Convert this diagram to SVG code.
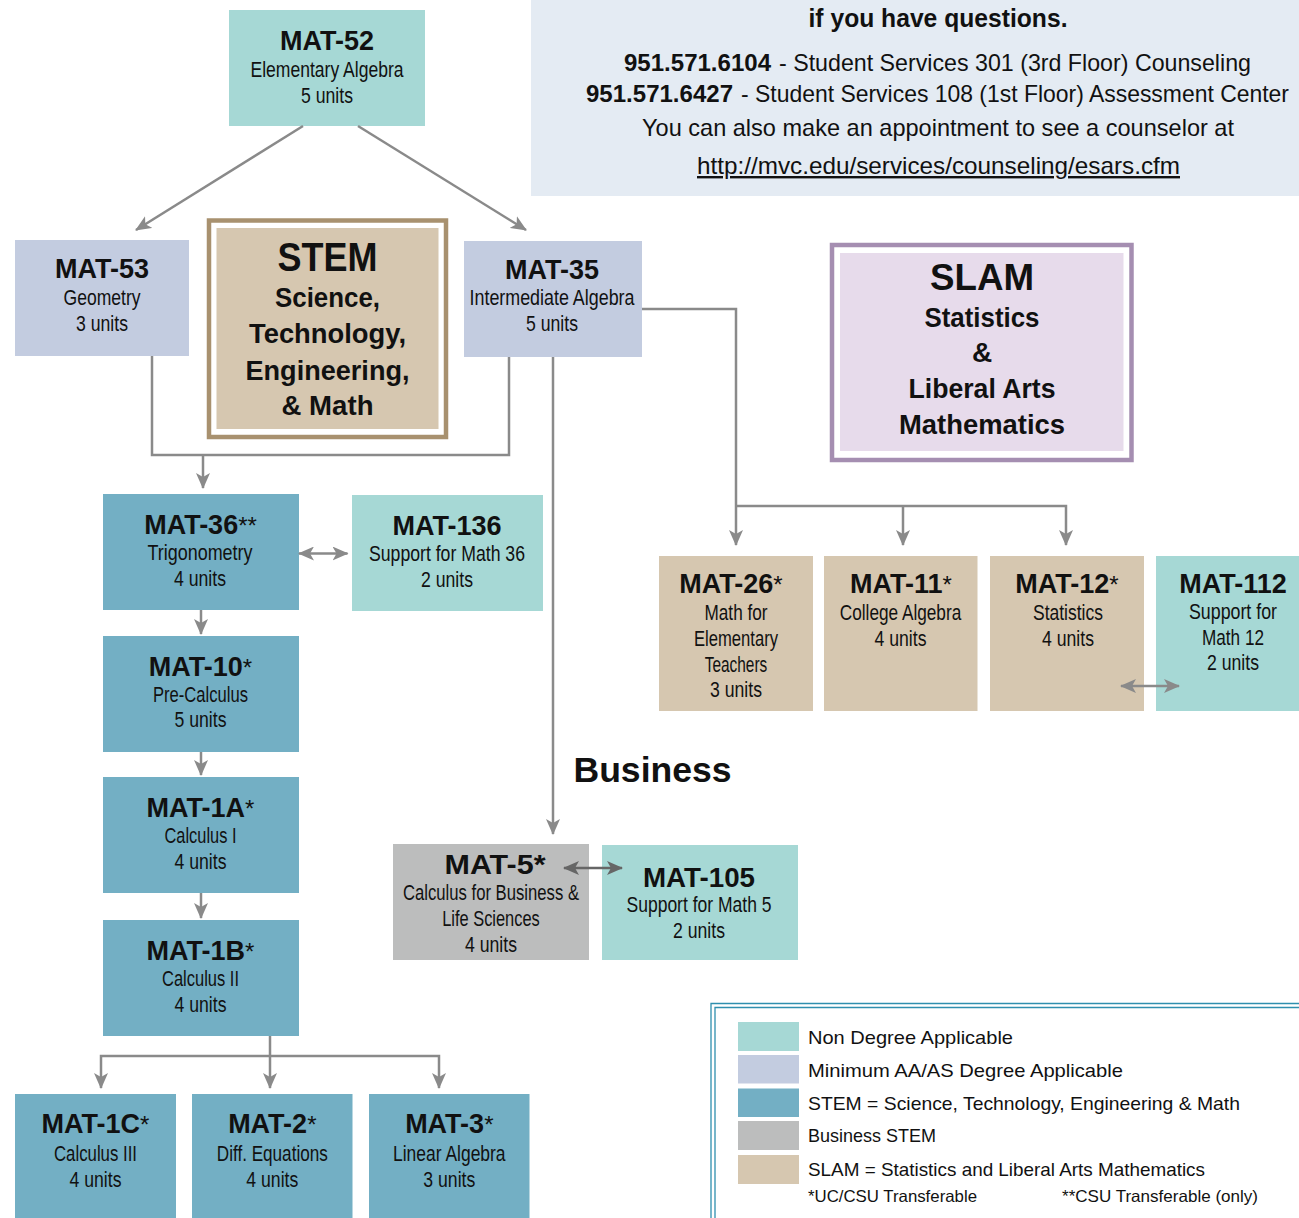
<svg xmlns="http://www.w3.org/2000/svg" width="1299" height="1218" viewBox="0 0 1299 1218">
<style>
.t{font-family:"Liberation Sans",Arial,sans-serif;font-weight:bold;font-size:27px;text-anchor:middle;fill:#111}
.s{font-family:"Liberation Sans Narrow","Liberation Sans",Arial,sans-serif;font-size:22px;text-anchor:middle;fill:#111}
.ast{font-weight:normal;font-size:24px}
.h{font-family:"Liberation Sans",Arial,sans-serif;font-weight:bold;text-anchor:middle;fill:#111}
.i{font-family:"Liberation Sans",Arial,sans-serif;font-size:24px;fill:#111}
.lg{font-family:"Liberation Sans",Arial,sans-serif;font-size:19px;fill:#111}
.fn{font-family:"Liberation Sans",Arial,sans-serif;font-size:16.5px;fill:#111}
.c{stroke:#8a8a8a;stroke-width:2.5;fill:none}
.nd{fill:#a6d8d5}
.aa{fill:#c3cce0}
.st{fill:#73afc4}
.bu{fill:#bcbdbd}
.sl{fill:#d6c7b0}
</style>
<defs>
<marker id="ah" viewBox="0 0 16 14" refX="15" refY="7" markerWidth="16" markerHeight="14" markerUnits="userSpaceOnUse" orient="auto-start-reverse"><path d="M0,0 L16,7 L0,14 L4,7 Z" fill="#8a8a8a"/></marker>
<marker id="ah2" viewBox="0 0 16 14" refX="15" refY="7" markerWidth="16" markerHeight="14" markerUnits="userSpaceOnUse" orient="auto-start-reverse"><path d="M0,0 L16,7 L0,14 L4,7 Z" fill="#666"/></marker>
</defs>
<rect width="1299" height="1218" fill="#fff"/>

<g id="info">
<rect x="531" y="0" width="768" height="196" fill="#e4ebf3"/>
<text class="h" x="938" y="27" font-size="26" textLength="259" lengthAdjust="spacingAndGlyphs">if you have questions.</text>
<text class="i" x="624" y="71" font-weight="bold" textLength="147" lengthAdjust="spacingAndGlyphs">951.571.6104</text>
<text class="i" x="779" y="71" textLength="472" lengthAdjust="spacingAndGlyphs">- Student Services 301 (3rd Floor) Counseling</text>
<text class="i" x="586" y="102" font-weight="bold" textLength="147" lengthAdjust="spacingAndGlyphs">951.571.6427</text>
<text class="i" x="741" y="102" textLength="548" lengthAdjust="spacingAndGlyphs">- Student Services 108 (1st Floor) Assessment Center</text>
<text class="i" x="642" y="136" textLength="592" lengthAdjust="spacingAndGlyphs">You can also make an appointment to see a counselor at</text>
<text class="i" x="697" y="174" fill="#2f5a9e" text-decoration="underline" textLength="483" lengthAdjust="spacingAndGlyphs">http://mvc.edu/services/counseling/esars.cfm</text>
</g>

<g id="mat52">
<rect class="nd" x="229" y="10" width="196" height="116"/>
<text class="t" x="327" y="50">MAT-52</text>
<text class="s" x="327" y="77" textLength="153" lengthAdjust="spacingAndGlyphs">Elementary Algebra</text>
<text class="s" x="327" y="103" textLength="52" lengthAdjust="spacingAndGlyphs">5 units</text>
</g>

<g id="mat53">
<rect class="aa" x="15" y="240" width="174" height="116"/>
<text class="t" x="102" y="278">MAT-53</text>
<text class="s" x="102" y="305" textLength="77" lengthAdjust="spacingAndGlyphs">Geometry</text>
<text class="s" x="102" y="331" textLength="52" lengthAdjust="spacingAndGlyphs">3 units</text>
</g>

<g id="stem">
<rect x="209" y="220.5" width="237" height="216.5" fill="#fff" stroke="#a8916f" stroke-width="4.5"/>
<rect class="sl" x="216.5" y="228" width="222" height="201"/>
<text class="h" x="327.5" y="271" font-size="40" textLength="100" lengthAdjust="spacingAndGlyphs">STEM</text>
<text class="h" x="327.5" y="307" font-size="28" textLength="105" lengthAdjust="spacingAndGlyphs">Science,</text>
<text class="h" x="327.5" y="343" font-size="28" textLength="157" lengthAdjust="spacingAndGlyphs">Technology,</text>
<text class="h" x="327.5" y="380" font-size="28" textLength="164" lengthAdjust="spacingAndGlyphs">Engineering,</text>
<text class="h" x="327.5" y="415" font-size="28" textLength="92" lengthAdjust="spacingAndGlyphs">&amp; Math</text>
</g>

<g id="mat35">
<rect class="aa" x="464" y="241" width="178" height="116"/>
<text class="t" x="552" y="279">MAT-35</text>
<text class="s" x="552" y="305" textLength="165" lengthAdjust="spacingAndGlyphs">Intermediate Algebra</text>
<text class="s" x="552" y="331" textLength="52" lengthAdjust="spacingAndGlyphs">5 units</text>
</g>

<g id="slam">
<rect x="832" y="245" width="299.5" height="215" fill="#fff" stroke="#a58eb1" stroke-width="4.5"/>
<rect x="840" y="253" width="283.5" height="198" fill="#e7dbeb"/>
<text class="h" x="982" y="290" font-size="37" textLength="104" lengthAdjust="spacingAndGlyphs">SLAM</text>
<text class="h" x="982" y="327" font-size="28" textLength="115" lengthAdjust="spacingAndGlyphs">Statistics</text>
<text class="h" x="982" y="362" font-size="28">&amp;</text>
<text class="h" x="982" y="398" font-size="28" textLength="147" lengthAdjust="spacingAndGlyphs">Liberal Arts</text>
<text class="h" x="982" y="434" font-size="28" textLength="166" lengthAdjust="spacingAndGlyphs">Mathematics</text>
</g>

<g id="mat36">
<rect class="st" x="103" y="494" width="196" height="116"/>
<text class="t" x="200.5" y="534">MAT-36<tspan class="ast">**</tspan></text>
<text class="s" x="200" y="560" textLength="105" lengthAdjust="spacingAndGlyphs">Trigonometry</text>
<text class="s" x="200" y="586" textLength="52" lengthAdjust="spacingAndGlyphs">4 units</text>
</g>

<g id="mat136">
<rect class="nd" x="352" y="495" width="191" height="116"/>
<text class="t" x="447" y="535">MAT-136</text>
<text class="s" x="447" y="561" textLength="156" lengthAdjust="spacingAndGlyphs">Support for Math 36</text>
<text class="s" x="447" y="587" textLength="52" lengthAdjust="spacingAndGlyphs">2 units</text>
</g>

<g id="mat10">
<rect class="st" x="103" y="636" width="196" height="116"/>
<text class="t" x="200.5" y="676">MAT-10<tspan class="ast">*</tspan></text>
<text class="s" x="200.5" y="702" textLength="95" lengthAdjust="spacingAndGlyphs">Pre-Calculus</text>
<text class="s" x="200.5" y="727" textLength="52" lengthAdjust="spacingAndGlyphs">5 units</text>
</g>

<g id="mat1a">
<rect class="st" x="103" y="777" width="196" height="116"/>
<text class="t" x="200.5" y="817">MAT-1A<tspan class="ast">*</tspan></text>
<text class="s" x="200.5" y="843" textLength="72" lengthAdjust="spacingAndGlyphs">Calculus I</text>
<text class="s" x="200.5" y="869" textLength="52" lengthAdjust="spacingAndGlyphs">4 units</text>
</g>

<g id="mat1b">
<rect class="st" x="103" y="920" width="196" height="116"/>
<text class="t" x="200.5" y="960">MAT-1B<tspan class="ast">*</tspan></text>
<text class="s" x="200.5" y="986" textLength="77" lengthAdjust="spacingAndGlyphs">Calculus II</text>
<text class="s" x="200.5" y="1012" textLength="52" lengthAdjust="spacingAndGlyphs">4 units</text>
</g>

<g id="mat1c">
<rect class="st" x="15" y="1094" width="161" height="124"/>
<text class="t" x="95.5" y="1133">MAT-1C<tspan class="ast">*</tspan></text>
<text class="s" x="95.5" y="1161" textLength="83" lengthAdjust="spacingAndGlyphs">Calculus III</text>
<text class="s" x="95.5" y="1187" textLength="52" lengthAdjust="spacingAndGlyphs">4 units</text>
</g>

<g id="mat2">
<rect class="st" x="192" y="1094" width="160.5" height="124"/>
<text class="t" x="272.3" y="1133">MAT-2<tspan class="ast">*</tspan></text>
<text class="s" x="272.3" y="1161" textLength="111" lengthAdjust="spacingAndGlyphs">Diff. Equations</text>
<text class="s" x="272.3" y="1187" textLength="52" lengthAdjust="spacingAndGlyphs">4 units</text>
</g>

<g id="mat3">
<rect class="st" x="369" y="1094" width="160.5" height="124"/>
<text class="t" x="449.3" y="1133">MAT-3<tspan class="ast">*</tspan></text>
<text class="s" x="449.3" y="1161" textLength="112.5" lengthAdjust="spacingAndGlyphs">Linear Algebra</text>
<text class="s" x="449.3" y="1187" textLength="52" lengthAdjust="spacingAndGlyphs">3 units</text>
</g>

<g id="mat26">
<rect class="sl" x="659" y="556" width="154" height="155"/>
<text class="t" x="731" y="593">MAT-26<tspan class="ast">*</tspan></text>
<text class="s" x="736" y="620" textLength="63" lengthAdjust="spacingAndGlyphs">Math for</text>
<text class="s" x="736" y="646" textLength="84" lengthAdjust="spacingAndGlyphs">Elementary</text>
<text class="s" x="736" y="672" textLength="62.5" lengthAdjust="spacingAndGlyphs">Teachers</text>
<text class="s" x="736" y="697" textLength="52" lengthAdjust="spacingAndGlyphs">3 units</text>
</g>

<g id="mat11">
<rect class="sl" x="824" y="556" width="153.5" height="155"/>
<text class="t" x="901" y="593">MAT-11<tspan class="ast">*</tspan></text>
<text class="s" x="900.5" y="620" textLength="121.5" lengthAdjust="spacingAndGlyphs">College Algebra</text>
<text class="s" x="900.5" y="646" textLength="52" lengthAdjust="spacingAndGlyphs">4 units</text>
</g>

<g id="mat12">
<rect class="sl" x="990" y="556" width="154" height="155"/>
<text class="t" x="1067" y="593">MAT-12<tspan class="ast">*</tspan></text>
<text class="s" x="1068" y="620" textLength="70" lengthAdjust="spacingAndGlyphs">Statistics</text>
<text class="s" x="1068" y="646" textLength="52" lengthAdjust="spacingAndGlyphs">4 units</text>
</g>

<g id="mat112">
<rect class="nd" x="1156" y="556" width="143" height="155"/>
<text class="t" x="1233" y="593">MAT-112</text>
<text class="s" x="1233" y="619" textLength="88" lengthAdjust="spacingAndGlyphs">Support for</text>
<text class="s" x="1233" y="645" textLength="62" lengthAdjust="spacingAndGlyphs">Math 12</text>
<text class="s" x="1233" y="670" textLength="52" lengthAdjust="spacingAndGlyphs">2 units</text>
</g>

<g id="business-label">
<text class="h" x="652.5" y="782" font-size="35" textLength="158" lengthAdjust="spacingAndGlyphs">Business</text>
</g>

<g id="mat5">
<rect class="bu" x="393" y="844" width="196" height="116"/>
<text class="t" x="495" y="874" textLength="101" lengthAdjust="spacingAndGlyphs">MAT-5*</text>
<text class="s" x="491" y="900" textLength="176" lengthAdjust="spacingAndGlyphs">Calculus for Business &amp;</text>
<text class="s" x="491" y="926" textLength="97.5" lengthAdjust="spacingAndGlyphs">Life Sciences</text>
<text class="s" x="491" y="952" textLength="52" lengthAdjust="spacingAndGlyphs">4 units</text>
</g>

<g id="mat105">
<rect class="nd" x="602" y="845" width="196" height="115"/>
<text class="t" x="699" y="887" textLength="112" lengthAdjust="spacingAndGlyphs">MAT-105</text>
<text class="s" x="699" y="912" textLength="145" lengthAdjust="spacingAndGlyphs">Support for Math 5</text>
<text class="s" x="699" y="938" textLength="52" lengthAdjust="spacingAndGlyphs">2 units</text>
</g>

<g id="connectors">
<line class="c" x1="303" y1="126" x2="136" y2="230" marker-end="url(#ah)"/>
<line class="c" x1="358" y1="126" x2="526" y2="230" marker-end="url(#ah)"/>
<polyline class="c" points="152,356 152,455 509,455 509,357"/>
<line class="c" x1="203" y1="455" x2="203" y2="488" marker-end="url(#ah)"/>
<line class="c" x1="553" y1="357" x2="553" y2="834" marker-end="url(#ah)"/>
<polyline class="c" points="642,309 736,309 736,545" marker-end="url(#ah)"/>
<polyline class="c" points="736,506 1066,506 1066,545" marker-end="url(#ah)"/>
<line class="c" x1="903" y1="506" x2="903" y2="545" marker-end="url(#ah)"/>
<line class="c" x1="299" y1="553.5" x2="347.5" y2="553.5" marker-start="url(#ah)" marker-end="url(#ah)"/>
<line class="c" x1="201" y1="610" x2="201" y2="634" marker-end="url(#ah)"/>
<line class="c" x1="201" y1="752" x2="201" y2="775" marker-end="url(#ah)"/>
<line class="c" x1="201" y1="893" x2="201" y2="918" marker-end="url(#ah)"/>
<line class="c" x1="270" y1="1036" x2="270" y2="1088" marker-end="url(#ah)"/>
<polyline class="c" points="101,1088 101,1056 439,1056 439,1088" marker-start="url(#ah)" marker-end="url(#ah)"/>
<line class="c" x1="564" y1="868" x2="622" y2="868" style="stroke:#666" marker-start="url(#ah2)" marker-end="url(#ah2)"/>
<line class="c" x1="1121" y1="686" x2="1179" y2="686" marker-start="url(#ah)" marker-end="url(#ah)"/>
</g>

<g id="legend">
<polyline points="711,1218 711,1003.5 1299,1003.5" fill="none" stroke="#2f8fae" stroke-width="1.3"/>
<polyline points="715,1218 715,1007.5 1299,1007.5" fill="none" stroke="#2f8fae" stroke-width="1.3"/>
<rect class="nd" x="738" y="1022" width="61" height="29"/>
<rect class="aa" x="738" y="1055" width="61" height="28.5"/>
<rect class="st" x="738" y="1088.5" width="61" height="28.5"/>
<rect class="bu" x="738" y="1121" width="61" height="29"/>
<rect class="sl" x="738" y="1155" width="61" height="29"/>
<text class="lg" x="808" y="1044" textLength="205" lengthAdjust="spacingAndGlyphs">Non Degree Applicable</text>
<text class="lg" x="808" y="1077" textLength="315" lengthAdjust="spacingAndGlyphs">Minimum AA/AS Degree Applicable</text>
<text class="lg" x="808" y="1110" textLength="432" lengthAdjust="spacingAndGlyphs">STEM = Science, Technology, Engineering &amp; Math</text>
<text class="lg" x="808" y="1142" textLength="128" lengthAdjust="spacingAndGlyphs">Business STEM</text>
<text class="lg" x="808" y="1176" textLength="397" lengthAdjust="spacingAndGlyphs">SLAM = Statistics and Liberal Arts Mathematics</text>
<text class="fn" x="808" y="1202" textLength="169" lengthAdjust="spacingAndGlyphs">*UC/CSU Transferable</text>
<text class="fn" x="1062" y="1202" textLength="196" lengthAdjust="spacingAndGlyphs">**CSU Transferable (only)</text>
</g>
</svg>
